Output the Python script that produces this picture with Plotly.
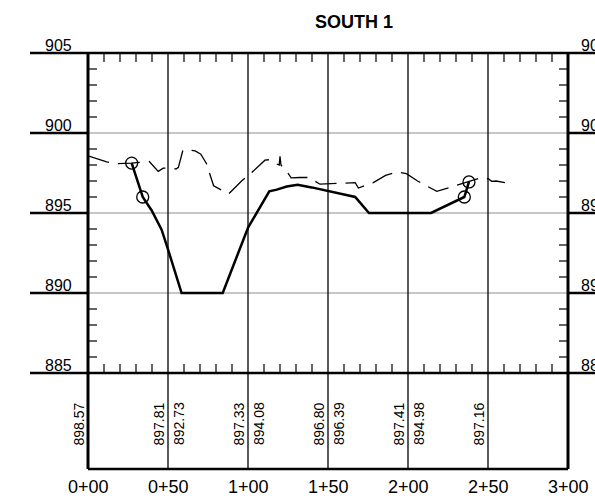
import plotly.graph_objects as go

# ---------------- data ----------------
# existing ground (dashed)
ex_x = [0, 11.7, 17, 27, 38.3, 43.9, 47, 52, 55, 56.5, 59.3, 63, 67, 70.5, 74, 78.5, 86, 88,
        96, 102, 110.6, 113.3, 117, 119.5, 120, 120.6, 125.2, 127, 132.5, 138, 145, 150,
        158.5, 167, 169, 178.3, 186, 193, 199, 206, 218, 225, 237.7, 245.6, 248, 250.2,
        252.3, 255, 260.6]
ex_y = [898.57, 898.19, 898.08, 898.12, 898.22, 897.6, 897.8, 897.8, 897.75, 897.85, 898.92,
        898.95, 898.88, 898.68, 898.1, 896.7, 896.3, 896.2,
        897.0, 897.5, 898.3, 898.33, 898.1, 898.0, 898.55, 898.0, 897.46, 897.2, 897.22,
        897.22, 896.8, 896.82, 896.88, 896.9, 896.56, 896.9, 897.35, 897.56, 897.46,
        897.0, 896.35, 896.56, 896.92, 897.2, 897.15, 897.14, 896.98, 897.0, 896.9]

# proposed grade (solid)
pr_x = [27.3, 34.2, 39.8, 46, 50, 58.5, 84.2, 100, 113.3, 118, 124.2, 131, 139.8, 150,
        167, 175.6, 214.4, 235.2, 238.1]
pr_y = [898.12, 896.0, 895.16, 893.96, 892.73, 890.0, 890.0, 894.08, 896.35, 896.46,
        896.66, 896.77, 896.6, 896.39, 896.0, 895.0, 895.0, 896.0, 896.94]

# circle markers (catch points / hinge points)
circ_x = [27.3, 34.2, 235.2, 238.1]
circ_y = [898.12, 896.0, 896.0, 896.94]

# station labels
st_vals = [0, 50, 100, 150, 200, 250, 300]
st_text = ["0+00", "0+50", "1+00", "1+50", "2+00", "2+50", "3+00"]

# elevation tick labels
el_vals = [905, 900, 895, 890, 885]

# band values
ex_st = [0, 50, 100, 150, 200, 250]
ex_lab = ["898.57", "897.81", "897.33", "896.80", "897.41", "897.16"]
pr_st = [50, 100, 150, 200]
pr_lab = ["892.73", "894.08", "896.39", "894.98"]

# ---------------- layout geometry ----------------
X0, X1 = 0, 300
Y0, Y1 = 879, 905
FONT = "Liberation Sans"


def px(x):
    return (x - X0) / (X1 - X0)


def py(y):
    return (y - Y0) / (Y1 - Y0)


shapes = []


def seg(x0, y0, x1, y1, w, c="black"):
    shapes.append(dict(type="line", xref="paper", yref="paper", layer="below",
                       x0=px(x0), y0=py(y0), x1=px(x1), y1=py(y1),
                       line=dict(color=c, width=w)))


XFT = 1.6   # px per ft
YU = 16.0   # px per unit elevation
left_ext = -58 / XFT
right_ext = 300 + 40 / XFT

# horizontal gridlines (gray) inside
for v in [900, 895, 890]:
    seg(0, v, 300, v, 1, "#8c8c8c")
# vertical gridlines
for s in [50, 100, 150, 200, 250]:
    seg(s, Y0, s, Y1, 1.3, "black")
# thick horizontal extensions
for v in el_vals:
    if v in (905, 885):
        seg(left_ext, v, right_ext, v, 2.5)
    else:
        seg(left_ext, v, 0, v, 2.5)
        seg(300, v, right_ext, v, 2.5)
# axes / band box
seg(0, Y0, 0, Y1, 3)
seg(300, Y0, 300, Y1, 3)
seg(0, Y0, 300, Y0, 2.5)
# minor ticks
tlx = 9 / XFT
tly = 9 / YU
for s in range(10, 300, 10):
    if s % 50 == 0:
        continue
    seg(s, 905, s, 905 - tly, 1.2)
    seg(s, 885, s, 885 + tly, 1.2)
for v in range(886, 905):
    if v % 5 == 0:
        continue
    seg(0, v, tlx, v, 1.2)
    seg(300, v, 300 - tlx, v, 1.2)

annotations = []
for v in el_vals:
    annotations.append(dict(text=str(v), xref="paper", yref="y", x=(74 - 88) / 480,
                            y=v, xanchor="right", yanchor="bottom", yshift=-3,
                            showarrow=False, font=dict(family=FONT, size=16, color="black")))
    annotations.append(dict(text=str(v), xref="paper", yref="y", x=(579 - 88) / 480,
                            y=v, xanchor="left", yanchor="bottom", yshift=-3,
                            showarrow=False, font=dict(family=FONT, size=16, color="black")))
for s, t in zip(st_vals, st_text):
    annotations.append(dict(text=t, xref="x", yref="paper", x=s, y=0, xanchor="center",
                            yanchor="middle", yshift=-17.5, showarrow=False,
                            font=dict(family=FONT, size=18, color="black")))
band_y = 905 - (424 - 53) / YU
for s, t in zip(ex_st, ex_lab):
    annotations.append(dict(text=t, xref="x", yref="y", x=s, y=band_y, xshift=-9.5,
                            xanchor="center", yanchor="middle", textangle=-90,
                            showarrow=False, font=dict(family=FONT, size=14, color="black")))
for s, t in zip(pr_st, pr_lab):
    annotations.append(dict(text=t, xref="x", yref="y", x=s, y=band_y, xshift=11,
                            xanchor="center", yanchor="middle", textangle=-90,
                            showarrow=False, font=dict(family=FONT, size=14, color="black")))

fig = go.Figure()
fig.add_trace(go.Scatter(x=ex_x, y=ex_y, mode="lines",
                         line=dict(color="black", width=1.3, dash="22px,9px"),
                         hoverinfo="skip"))
fig.add_trace(go.Scatter(x=pr_x, y=pr_y, mode="lines",
                         line=dict(color="black", width=2.5), hoverinfo="skip"))
fig.add_trace(go.Scatter(x=circ_x, y=circ_y, mode="markers",
                         marker=dict(symbol="circle-open", size=12, color="black",
                                     line=dict(width=1.3, color="black")),
                         hoverinfo="skip"))

fig.update_layout(
    width=595, height=498,
    margin=dict(l=88, r=27, t=53, b=29),
    paper_bgcolor="white", plot_bgcolor="white",
    showlegend=False,
    title=dict(text="<b>SOUTH 1</b>", xref="paper", x=(354 - 88) / 480, xanchor="center",
               yref="container", y=1 - 21.5 / 498, yanchor="middle",
               font=dict(family=FONT, size=18, color="black")),
    xaxis=dict(range=[X0, X1], visible=False, fixedrange=True),
    yaxis=dict(range=[Y0, Y1], visible=False, fixedrange=True),
    shapes=shapes,
    annotations=annotations,
)

fig.write_html("out.html", config={"displayModeBar": False},
               post_script="document.body.style.margin='0';document.body.style.overflow='hidden';")
